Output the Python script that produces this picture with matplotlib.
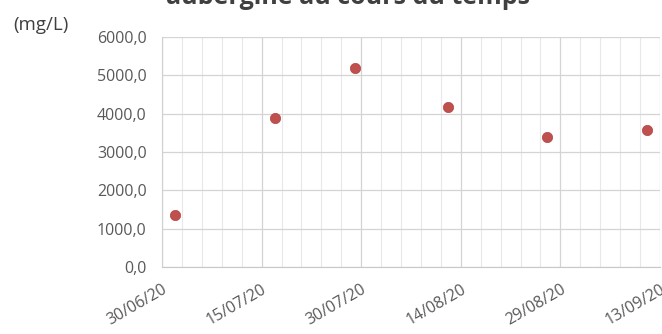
import matplotlib
matplotlib.use("Agg")
import matplotlib.pyplot as plt
import datetime as dt

dates = ["2020-07-02", "2020-07-17", "2020-07-29", "2020-08-12", "2020-08-27", "2020-09-11"]
values = [1350, 3900, 5200, 4170, 3390, 3570]
tick_dates = ["2020-06-30", "2020-07-15", "2020-07-30", "2020-08-14", "2020-08-29", "2020-09-13"]
tick_labels = ["30/06/20", "15/07/20", "30/07/20", "14/08/20", "29/08/20", "13/09/20"]
y_ticks = [0, 1000, 2000, 3000, 4000, 5000, 6000]
title = "aubergine au cours du temps"
unit = "(mg/L)"

plt.rcParams['font.family'] = ['Open Sans', 'DejaVu Sans']

fig = plt.figure(figsize=(6.62, 3.34), dpi=100)
ax = fig.add_axes([162/662, 1-267/334, (660-162)/662, (267-37)/334])

xd = [dt.datetime.strptime(d, "%Y-%m-%d") for d in dates]
td = [dt.datetime.strptime(d, "%Y-%m-%d") for d in tick_dates]

ax.set_xlim(td[0], td[-1])
ax.set_ylim(0, 6000)
ax.set_yticks(y_ticks)
ax.set_yticklabels([f"{v:.1f}".replace(".", ",") for v in y_ticks])
ax.set_xticks(td)
ax.set_xticklabels(tick_labels, rotation=30, ha='right', rotation_mode='anchor')
minor = [td[0] + dt.timedelta(days=3*i) for i in range(26)]
ax.set_xticks(minor, minor=True)

ax.grid(True, which='major', axis='both', color='#d4d4d4', linewidth=0.9)
ax.grid(True, which='minor', axis='x', color='#e8e8e8', linewidth=0.8)
ax.set_axisbelow(True)

for s in ['top', 'right']:
    ax.spines[s].set_visible(False)
ax.spines['left'].set_color('#d0d0d0')
ax.spines['bottom'].set_color('#c8c8c8')
ax.tick_params(axis='both', which='both', length=0, colors='#595959', labelsize=11.5)
ax.tick_params(axis='y', pad=11)
ax.tick_params(axis='x', pad=10)

ax.scatter(xd, values, s=55, color='#c0504d', zorder=3, edgecolors='#b04440', linewidths=0.5)

fig.text(348/662, 1-4.5/334, title, ha='center', va='baseline', fontsize=18, fontweight='bold', color='#404040')
fig.text(13/662, 1-25/334, unit, ha='left', va='center', fontsize=13.5, color='#404040')

fig.savefig("out.png", dpi=100)
